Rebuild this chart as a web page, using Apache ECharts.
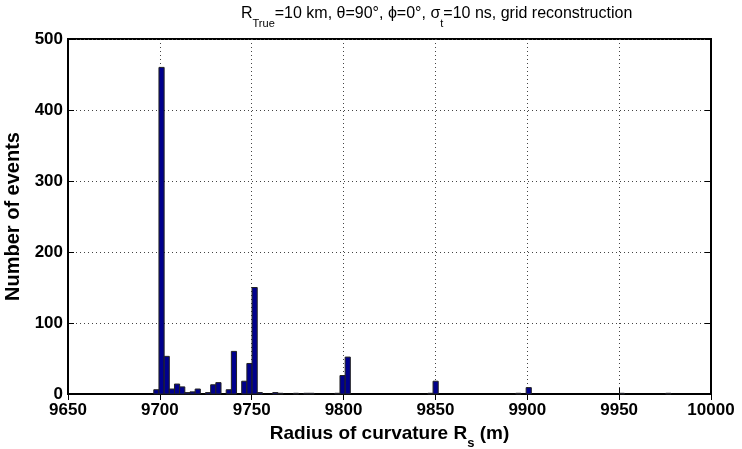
<!DOCTYPE html>
<html>
<head>
<meta charset="utf-8">
<script src="https://cdn.jsdelivr.net/npm/echarts@6/dist/echarts.min.js"></script>
<style>
html,body{margin:0;padding:0;background:#fff;}
#c{width:742px;height:449px;}
</style>
</head>
<body>
<div id="c"></div>
<script>
// Histogram: 100 bins starting at binStart with width binWidth (metres)
const binStart = 9696.7;
const binWidth = 2.815;
const counts = [
  6, 460, 53, 7, 14, 10, 2, 3, 7, 0,
  2, 13, 16, 0, 6, 60, 0, 18, 43, 150,
  2, 0, 0, 2, 1, 0, 0, 1, 0, 1,
  1, 0, 0, 0, 0, 1, 26, 52, 0, 0,
  0, 0, 0, 0, 0, 0, 0, 0, 0, 0,
  0, 0, 0, 1, 18, 0, 0, 0, 0, 0,
  0, 0, 0, 0, 0, 0, 0, 0, 0, 0,
  1, 0, 9, 0, 0, 0, 0, 0, 0, 0,
  0, 0, 0, 0, 0, 0, 0, 0, 0, 0,
  1, 0, 0, 0, 0, 0, 0, 0, 0, 1
];
const xTicks = [9650, 9700, 9750, 9800, 9850, 9900, 9950, 10000];
const yTicks = [0, 100, 200, 300, 400, 500];

const FONT = '"Liberation Sans", Arial, Helvetica, sans-serif';
const data = counts.map((c, i) => [binStart + i * binWidth, binStart + (i + 1) * binWidth, c]);

const chart = echarts.init(document.getElementById('c'), null, {renderer: 'canvas'});
const gridLine = {show: true, lineStyle: {color: '#444', width: 1, type: [1, 3]}};
const tick = {show: true, inside: true, length: 6, lineStyle: {color: '#000', width: 1}};

chart.setOption({
  animation: false,
  backgroundColor: '#fff',
  title: {
    text: '{n|R}{s|True}{n|=10 km, θ=90°, ϕ=0°, σ}{s|t}{n|=10 ns, grid reconstruction}',
    left: 236,
    top: 1,
    textStyle: {
      rich: {
        n: {fontFamily: FONT, fontSize: 16, fontWeight: 'normal', color: '#000', lineHeight: 20, verticalAlign: 'top'},
        s: {fontFamily: FONT, fontSize: 11, fontWeight: 'normal', color: '#000', lineHeight: 12, padding: [12, 0, 0, 0], verticalAlign: 'top'}
      }
    }
  },
  grid: {left: 68, right: 31, top: 39, bottom: 55, show: true, borderColor: '#000', borderWidth: 2,
    containLabel: false, outerBoundsMode: 'none'},
  xAxis: [{
    type: 'value', min: xTicks[0], max: xTicks[xTicks.length - 1], interval: 50,
    position: 'bottom',
    axisLine: {show: true, lineStyle: {color: '#000', width: 2}},
    axisTick: tick,
    splitLine: gridLine,
    axisLabel: {fontFamily: FONT, fontSize: 17, fontWeight: 'bold', color: '#000', margin: 8,
      formatter: function (v) { return String(v); }},
    name: '{n|Radius of curvature R}{s|s}{n| (m)}',
    nameLocation: 'middle',
    nameGap: 17,
    nameTextStyle: {
      rich: {
        n: {fontFamily: FONT, fontSize: 19, fontWeight: 'bold', color: '#000', lineHeight: 22, verticalAlign: 'top'},
        s: {fontFamily: FONT, fontSize: 13, fontWeight: 'bold', color: '#000', lineHeight: 14, padding: [13, 0, 0, 0], verticalAlign: 'top'}
      }
    }
  }, {
    type: 'value', min: xTicks[0], max: xTicks[xTicks.length - 1], interval: 50,
    position: 'top',
    axisLine: {show: true, lineStyle: {color: '#000', width: 2}},
    axisTick: tick, axisLabel: {show: false}, splitLine: {show: false}
  }],
  yAxis: [{
    type: 'value', min: yTicks[0], max: yTicks[yTicks.length - 1], interval: 100,
    position: 'left',
    axisLine: {show: true, lineStyle: {color: '#000', width: 2}},
    axisTick: tick,
    splitLine: gridLine,
    axisLabel: {fontFamily: FONT, fontSize: 17, fontWeight: 'bold', color: '#000', margin: 5,
      formatter: function (v) { return String(v); }},
    name: 'Number of events',
    nameLocation: 'middle',
    nameGap: 40,
    nameTextStyle: {fontFamily: FONT, fontSize: 20, fontWeight: 'bold', color: '#000'}
  }, {
    type: 'value', min: yTicks[0], max: yTicks[yTicks.length - 1], interval: 100,
    position: 'right',
    axisLine: {show: true, lineStyle: {color: '#000', width: 2}},
    axisTick: tick, axisLabel: {show: false}, splitLine: {show: false}
  }],
  series: [{
    type: 'custom',
    xAxisIndex: 0, yAxisIndex: 0,
    encode: {x: [0, 1], y: 2},
    data: data,
    renderItem: function (params, api) {
      const v = api.value(2);
      if (!v) return null;
      const p0 = api.coord([api.value(0), v]);
      const p1 = api.coord([api.value(1), 0]);
      return {
        type: 'rect',
        shape: {x: p0[0], y: p0[1], width: p1[0] - p0[0], height: p1[1] - p0[1]},
        style: {fill: '#00008C', stroke: '#222', lineWidth: 1}
      };
    }
  }]
});
</script>
</body>
</html>
